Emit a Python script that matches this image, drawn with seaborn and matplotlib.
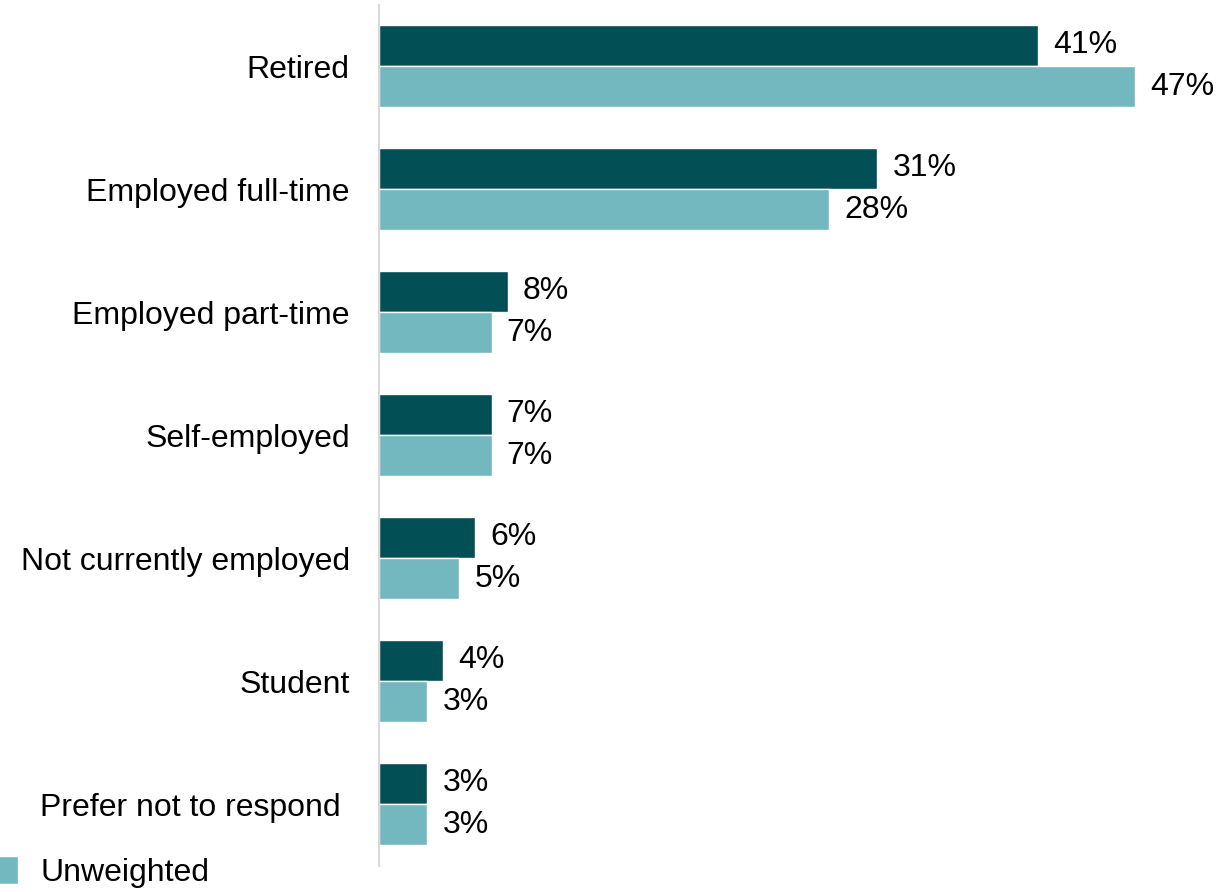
import pandas as pd
import numpy as np
import matplotlib.pyplot as plt
import seaborn as sns
from matplotlib.patches import Patch

# data
categories = ['Retired', 'Employed full-time', 'Employed part-time', 'Self-employed',
              'Not currently employed', 'Student', 'Prefer not to respond ']
weighted = [41, 31, 8, 7, 6, 4, 3]
unweighted = [47, 28, 7, 7, 5, 3, 3]
series = ['Weighted', 'Unweighted']

dark = '#034F56'
light = '#73B8BF'

df = pd.DataFrame({
    'category': categories * 2,
    'value': weighted + unweighted,
    'series': [series[0]] * len(categories) + [series[1]] * len(categories),
})

sns.set_style("white")
plt.rcParams['font.family'] = ['Liberation Sans', 'DejaVu Sans']
plt.rcParams['text.color'] = 'black'
plt.rcParams['ytick.color'] = 'black'

fig = plt.figure(figsize=(12.21, 8.92), dpi=100)
ax = fig.add_axes([379 / 1221, 1 - 865.5 / 892, (1215 - 379) / 1221, 861 / 892])

sns.barplot(data=df, y='category', x='value', hue='series', orient='h',
            palette=[dark, light], width=0.667, gap=0, legend=False,
            saturation=1, ax=ax)

for cont in ax.containers:
    ax.bar_label(cont, fmt='%d%%', padding=11, fontsize=23, color='black')

ax.set_xlim(0, 52)
ax.set_ylim(6.5, -0.5)
ax.set_xlabel('')
ax.set_ylabel('')
ax.set_xticks([])
ax.tick_params(axis='y', length=0, pad=21, labelsize=23, labelcolor='black')
for s in ['top', 'right', 'bottom']:
    ax.spines[s].set_visible(False)
ax.spines['left'].set_color('#D9D9D9')
ax.spines['left'].set_linewidth(1.5)

# legend, only partly inside the canvas
fig.legend(handles=[Patch(facecolor=light)], labels=['Unweighted'],
           loc='center left', bbox_to_anchor=(-12 / 1221, 1 - 872 / 892),
           frameon=False, fontsize=23, borderpad=0, borderaxespad=0,
           handlelength=0.94, handleheight=1.0, handletextpad=0.69)

fig.savefig('out.png', dpi=100)
